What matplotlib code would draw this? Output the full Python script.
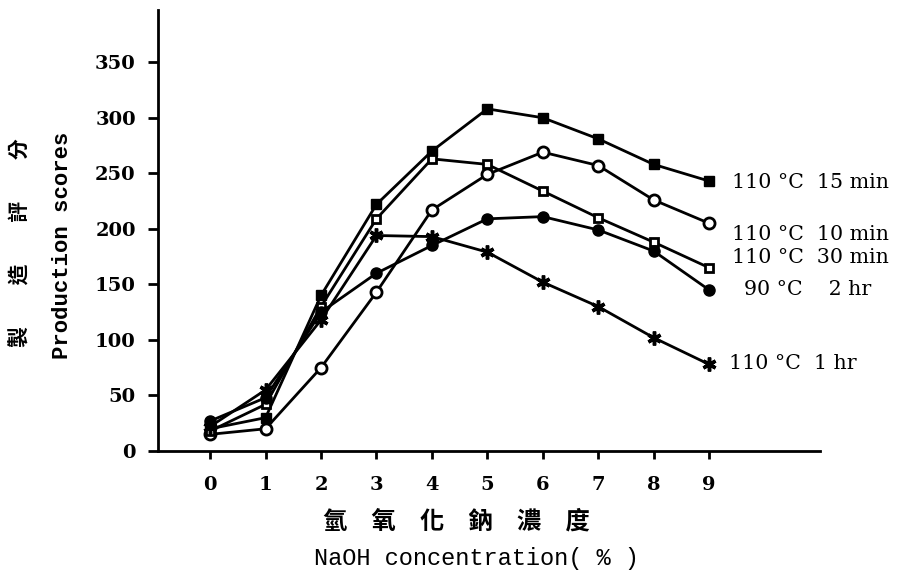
import numpy as np
import matplotlib.pyplot as plt

# NaOH concentration (%)
conc = [0, 1, 2, 3, 4, 5, 6, 7, 8, 9]

# production scores
min15_110 = [20, 30, 140, 222, 270, 308, 300, 281, 258, 243]
min10_110 = [15, 20, 75, 143, 217, 249, 269, 257, 226, 205]
min30_110 = [18, 42, 130, 209, 263, 258, 234, 210, 188, 165]
hr2_90 = [27, 48, 125, 160, 185, 209, 211, 199, 180, 145]
hr1_110 = [22, 55, 118, 194, 193, 179, 152, 130, 102, 78]

labels = ['110 °C  15 min', '110 °C  10 min', '110 °C  30 min', '90 °C    2 hr', '110 °C  1 hr']
label_pos = [(9.42, 242), (9.42, 195), (9.42, 174), (9.63, 145), (9.35, 79)]

yticks = [0, 50, 100, 150, 200, 250, 300, 350]

fig = plt.figure(figsize=(9, 5.82), dpi=100)
ax = fig.add_axes([158 / 900, 1 - 451 / 582, (820 - 158) / 900, (451 - 10) / 582])

ax.plot(conc, min15_110, color='black', lw=2, marker='s', ms=7, mfc='black', mec='black')
ax.plot(conc, min10_110, color='black', lw=2, marker='o', ms=8, mfc='white', mec='black', mew=2)
ax.plot(conc, min30_110, color='black', lw=2, marker='s', ms=6, mfc='white', mec='black', mew=2)
ax.plot(conc, hr2_90, color='black', lw=2, marker='o', ms=8, mfc='black', mec='black')
ax.plot(conc, hr1_110, color='black', lw=2, marker=(6, 2, 0), ms=10, mec='black', mew=2.5)

for lab, (lx, ly) in zip(labels, label_pos):
    ax.text(lx, ly, lab, fontsize=14.8, family='DejaVu Serif', va='center', ha='left',
            clip_on=False)

ax.set_xlim(-0.94, 11.0)
ax.set_ylim(0, 397)
ax.set_xticks(conc)
ax.set_yticks(yticks)
ax.set_xticklabels([str(c) for c in conc], fontsize=14, family='DejaVu Serif', fontweight='bold')
ax.set_yticklabels([str(v) for v in yticks], fontsize=14, family='DejaVu Serif', fontweight='bold')
ax.tick_params(axis='y', direction='out', length=7, width=2, pad=9)
ax.tick_params(axis='x', direction='out', length=6, width=2, pad=12)
for side in ['top', 'right']:
    ax.spines[side].set_visible(False)
ax.spines['left'].set_linewidth(2)
ax.spines['bottom'].set_linewidth(2)

# axis titles
fig.text(20 / 900, 1 - 243 / 582, '製　　造　　評　　分', rotation=90, fontsize=15,
         family=['Noto Sans CJK TC', 'DejaVu Sans'], fontweight='bold', ha='center', va='center')
fig.text(62 / 900, 1 - 245 / 582, 'Production scores', rotation=90, fontsize=16,
         family='Liberation Mono', fontweight='bold', ha='center', va='center')
fig.text(456 / 900, 1 - 522 / 582, '氫　氧　化　鈉　濃　度', fontsize=17.5,
         family=['Noto Sans CJK TC', 'DejaVu Sans'], fontweight='bold', ha='center', va='center')
fig.text(476 / 900, 1 - 558 / 582, 'NaOH concentration( % )', fontsize=17,
         family='Liberation Mono', ha='center', va='center')

fig.savefig('out.png', dpi=100)
